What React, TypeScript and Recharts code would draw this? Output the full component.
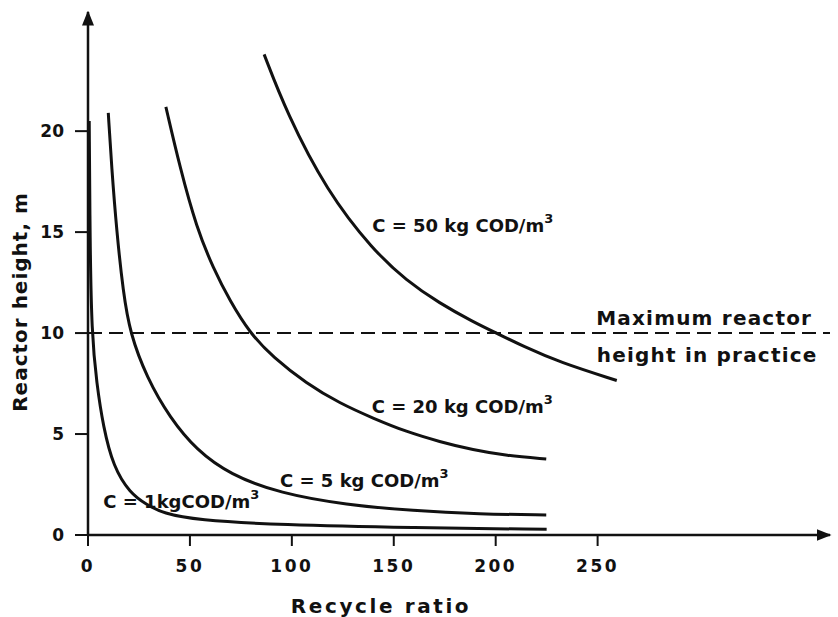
import { LineChart, Line, XAxis, YAxis, ReferenceLine, ReferenceDot, Label } from 'recharts';

const FONT = '"DejaVu Sans", Verdana, sans-serif';
const INK = '#111';

const xTicks = [0, 50, 100, 150, 200, 250];
const yTicks = [0, 5, 10, 15, 20];

// C = 1 kg COD/m3
const c1Ratio = [0.6, 1.0, 1.8, 4.25, 7.5, 12.4, 20.6, 28.8, 36.9, 53.3, 94, 159, 225];
const c1Height = [20.5, 14.5, 10, 7.5, 5.35, 3.38, 2.07, 1.5, 1.07, 0.74, 0.5, 0.36, 0.28];

// C = 5 kg COD/m3
const c5Ratio = [9.95, 11.6, 14.1, 17.3, 20.6, 28.8, 40.2, 53.3, 69.6, 94.1, 126.8, 159.5, 192, 224.8];
const c5Height = [20.9, 18.2, 15.0, 12.0, 10, 7.8, 5.8, 4.2, 3.0, 2.06, 1.49, 1.2, 1.04, 0.99];

// C = 20 kg COD/m3
const c20Ratio = [38.2, 45.1, 53.3, 61.5, 69.6, 79.4, 90.8, 107.2, 123.5, 139.9, 156.2, 172.5, 188.9, 205.2, 224.8];
const c20Height = [21.2, 18.2, 15.2, 13.2, 11.6, 10, 8.8, 7.5, 6.52, 5.78, 5.11, 4.62, 4.21, 3.93, 3.76];

// C = 50 kg COD/m3
const c50Ratio = [86.4, 97.5, 117, 139.9, 156.2, 172.5, 188.9, 200.3, 213.4, 231.4, 259.4];
const c50Height = [23.8, 20.9, 17.05, 14.1, 12.6, 11.47, 10.56, 10, 9.35, 8.55, 7.65];

const maxPracticalHeight = 10;

const curveLabels = [
  { ratio: 7.5, height: 1.32, text: 'C = 1kgCOD/m', sup: '3' },
  { ratio: 94.2, height: 2.39, text: 'C = 5 kg COD/m', sup: '3' },
  { ratio: 139.2, height: 6.03, text: 'C = 20 kg COD/m', sup: '3' },
  { ratio: 139.4, height: 15.02, text: 'C = 50 kg COD/m', sup: '3' },
];

const noteLines = [
  { ratio: 249.3, height: 10.4, text: 'Maximum reactor' },
  { ratio: 249.6, height: 8.58, text: 'height in practice' },
];

const toPoints = (xs: number[], ys: number[]) => xs.map((x, i) => ({ ratio: x, height: ys[i] }));

const series = [
  { key: 'c1', data: toPoints(c1Ratio, c1Height) },
  { key: 'c5', data: toPoints(c5Ratio, c5Height) },
  { key: 'c20', data: toPoints(c20Ratio, c20Height) },
  { key: 'c50', data: toPoints(c50Ratio, c50Height) },
];

const textStyle = { fontFamily: FONT, fontWeight: 700, fill: INK };

export default function App() {
  return (
    <div style={{ position: 'absolute', left: 0, top: 0, background: '#fff' }}>
      <LineChart width={838} height={617} margin={{ top: 12, right: 8, bottom: 22, left: 28 }}>
        <defs>
          <marker id="arrowHead" viewBox="0 0 10 10" refX="9" refY="5" markerWidth="6" markerHeight="6" orient="auto-start-reverse" markerUnits="strokeWidth">
            <path d="M0,1 L10,5 L0,9 Z" fill={INK} />
          </marker>
        </defs>
        <XAxis
          type="number"
          dataKey="ratio"
          domain={[0, 364]}
          ticks={xTicks}
          allowDataOverflow
          height={60}
          tickSize={11}
          tickMargin={14}
          axisLine={{ stroke: INK, strokeWidth: 2.5, markerEnd: 'url(#arrowHead)' }}
          tickLine={{ stroke: INK, strokeWidth: 2 }}
          tick={{ ...textStyle, fontSize: 17, letterSpacing: 2.5 }}
        >
          <Label
            content={({ viewBox }: any) => (
              <text x={viewBox.x + 293} y={viewBox.y + 78} textAnchor="middle" style={{ ...textStyle, fontSize: 20, letterSpacing: 2.6 }}>
                Recycle ratio
              </text>
            )}
          />
        </XAxis>
        <YAxis
          type="number"
          dataKey="height"
          domain={[0, 25.9]}
          ticks={yTicks}
          allowDataOverflow
          width={60}
          tickSize={13}
          tickMargin={11}
          axisLine={{ stroke: INK, strokeWidth: 2.5, markerStart: 'url(#arrowHead)' }}
          tickLine={{ stroke: INK, strokeWidth: 2 }}
          tick={{ ...textStyle, fontSize: 17 }}
        >
          <Label
            content={({ viewBox }: any) => (
              <text
                x={0}
                y={0}
                transform={`translate(${viewBox.x - 8}, ${viewBox.y + 290}) rotate(-90)`}
                textAnchor="middle"
                dominantBaseline="central"
                style={{ ...textStyle, fontSize: 20, letterSpacing: 1 }}
              >
                Reactor height, m
              </text>
            )}
          />
        </YAxis>
        <ReferenceLine y={maxPracticalHeight} stroke={INK} strokeWidth={2} strokeDasharray="14 7" />
        {series.map((s) => (
          <Line
            key={s.key}
            data={s.data}
            dataKey="height"
            type="basis"
            stroke={INK}
            strokeWidth={3}
            dot={false}
            isAnimationActive={false}
          />
        ))}
        {curveLabels.map((l) => (
          <ReferenceDot
            key={l.text}
            x={l.ratio}
            y={l.height}
            r={0}
            shape={(p: any) => (
              <text x={p.cx} y={p.cy} style={{ ...textStyle, fontSize: 18 }}>
                {l.text}
                <tspan dy={-9} fontSize={13}>{l.sup}</tspan>
              </text>
            )}
          />
        ))}
        {noteLines.map((l) => (
          <ReferenceDot
            key={l.text}
            x={l.ratio}
            y={l.height}
            r={0}
            shape={(p: any) => (
              <text x={p.cx} y={p.cy} style={{ ...textStyle, fontSize: 20, letterSpacing: 1.2 }}>
                {l.text}
              </text>
            )}
          />
        ))}
      </LineChart>
    </div>
  );
}
